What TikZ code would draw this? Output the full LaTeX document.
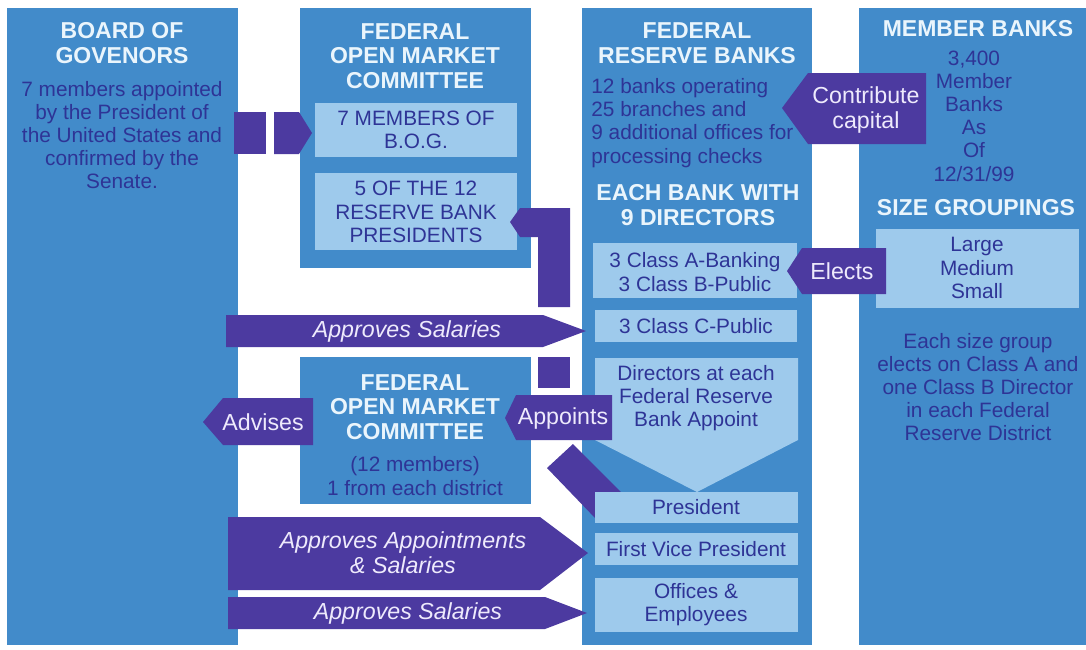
\documentclass[tikz,border=0pt]{standalone}
\usepackage{fontspec}
\setmainfont{Liberation Sans}
\usepackage{tikz}
\usetikzlibrary{fit}
\definecolor{colblue}{RGB}{66,139,202}
\definecolor{liteblue}{RGB}{158,202,236}
\definecolor{arrpurple}{RGB}{76,58,160}
\definecolor{hdrwhite}{RGB}{234,245,252}
\definecolor{txtblue}{RGB}{46,52,150}
\definecolor{arrtext}{RGB}{238,234,252}
\tikzset{
  colbox/.style={rectangle, fill=colblue, inner sep=0pt},
  litebox/.style={rectangle, fill=liteblue, inner sep=0pt},
  blkarrow/.style={fill=arrpurple},
  hdr/.style={align=center, text=hdrwhite, inner sep=0pt,
    font=\fontsize{11.5}{12.3}\selectfont\bfseries},
  bodytxt/.style={align=center, text=txtblue, inner sep=0pt,
    font=\fontsize{10.4}{11.6}\selectfont},
  arrtxt/.style={align=center, text=arrtext, inner sep=0pt,
    font=\fontsize{11.6}{12.5}\selectfont}
}

\begin{document}
\begin{tikzpicture}[x=0.5pt, y=-0.5pt]
  \useasboundingbox (0,0) rectangle (1086,649);
  \fill[white] (0,0) rectangle (1086,649);

  % Columns
  \node[colbox, fit={(7,8) (238,645)}] (bog) {};
  \node[colbox, fit={(300,8) (531,268)}] (fomctop) {};
  \node[colbox, fit={(300,357) (531,504)}] (fomcbot) {};
  \node[colbox, fit={(582,8) (812,645)}] (frb) {};
  \node[colbox, fit={(859,8) (1086,645)}] (member) {};

  % Band from President to the committee
  \fill[blkarrow] (547,468) -- (573,444) -- (622,493) -- (596,519) -- cycle;

  % Light boxes
  \node[litebox, fit={(315,103) (517,157)}] (bogseven) {};
  \node[litebox, fit={(315,173) (517,250)}] (fivepres) {};
  \node[litebox, fit={(593,243) (797,298)}] (classab) {};
  \node[litebox, fit={(595,310) (797,342)}] (classc) {};
  \fill[liteblue] (595,358) -- (798,358) -- (798,440) -- (697,492) -- (595,440) -- cycle;
  \node[litebox, fit={(595,492) (798,523)}] (president) {};
  \node[litebox, fit={(595,533) (798,565)}] (firstvp) {};
  \node[litebox, fit={(595,578) (798,632)}] (offices) {};
  \node[litebox, fit={(876,229) (1079,308)}] (sizes) {};

  % BOG to FOMC
  \fill[blkarrow] (234,112) rectangle (266,154);
  \fill[blkarrow] (274,112) -- (299,112) -- (312,133) -- (299,154) -- (274,154) -- cycle;

  % Reserve bank presidents bracket
  \fill[blkarrow] (510,222) -- (520,208) -- (570,208) -- (570,307) -- (538,307)
    -- (538,237) -- (520,237) -- cycle;
  \fill[blkarrow] (538,357) rectangle (570,388);

  % Approves Salaries (top)
  \fill[blkarrow] (226,315) -- (543,315) -- (586,331) -- (543,347) -- (226,347) -- cycle;
  \node[arrtxt, font=\fontsize{11.6}{12.5}\selectfont\itshape] (salaryone) at (407,331) {Approves Salaries};

  % Advises and Appoints
  \fill[blkarrow] (203,422) -- (223,398) -- (313,398) -- (313,445) -- (223,445) -- cycle;
  \node[arrtxt] (advises) at (263,422) {Advises};
  \fill[blkarrow] (505,418) -- (516,395) -- (612,395) -- (612,440) -- (516,440) -- cycle;
  \node[arrtxt] (appoints) at (563,418) {Appoints};

  % Approves Appointments & Salaries
  \fill[blkarrow] (228,517) -- (540,517) -- (588,553) -- (540,590) -- (228,590) -- cycle;
  \node[arrtxt, font=\fontsize{11.6}{12.5}\selectfont\itshape] (appointsal) at (403,553)
    {Approves Appointments\\\& Salaries};

  % Approves Salaries (bottom)
  \fill[blkarrow] (228,597) -- (545,597) -- (587,613) -- (545,629) -- (228,629) -- cycle;
  \node[arrtxt, font=\fontsize{11.6}{12.5}\selectfont\itshape] (salarytwo) at (408,613) {Approves Salaries};

  % Contribute capital and Elects
  \fill[blkarrow] (782,108) -- (808,73) -- (926,73) -- (926,144) -- (808,144) -- cycle;
  \node[arrtxt] (contrib) at (866,110) {Contribute\\capital};
  \fill[blkarrow] (787,271) -- (802,248) -- (886,248) -- (886,294) -- (802,294) -- cycle;
  \node[arrtxt] (elects) at (842,271) {Elects};

  % Board of Govenors
  \node[hdr] (boghdr) at (122,43) {BOARD OF\\GOVENORS};
  \node[bodytxt] (bogtxt) at (122,135) {7 members appointed\\by the President of\\the United States and\\confirmed by the\\Senate.};

  % FOMC (top)
  \node[hdr] (fomchdr) at (415,56) {FEDERAL\\OPEN MARKET\\COMMITTEE};
  \node[bodytxt] (bogseventxt) at (416,130) {7 MEMBERS OF\\B.O.G.};
  \node[bodytxt] (fivepretxt) at (416,212) {5 OF THE 12\\RESERVE BANK\\PRESIDENTS};

  % FOMC (bottom)
  \node[hdr] (fomcbothdr) at (415,407) {FEDERAL\\OPEN MARKET\\COMMITTEE};
  \node[bodytxt] (fomcbottxt) at (415,476) {(12 members)\\1 from each district};

  % Federal Reserve Banks
  \node[hdr] (frbhdr) at (697,43) {FEDERAL\\RESERVE BANKS};
  \node[bodytxt, align=left, anchor=west] (frbtxt) at (591,123)
    {12 banks operating\\25 branches and\\9 additional offices for\\processing checks};
  \node[hdr] (dirhdr) at (698,205) {EACH BANK WITH\\9 DIRECTORS};
  \node[bodytxt] (classabtxt) at (695,272) {3 Class A-Banking\\3 Class B-Public};
  \node[bodytxt] (classctxt) at (696,326) {3 Class C-Public};
  \node[bodytxt] (directors) at (696,398) {Directors at each\\Federal Reserve\\Bank Appoint};
  \node[bodytxt] (presidenttxt) at (696,507) {President};
  \node[bodytxt] (firstvptxt) at (696,549) {First Vice President};
  \node[bodytxt] (officestxt) at (696,605) {Offices \&\\Employees};

  % Member Banks
  \node[hdr] (memhdr) at (978,29) {MEMBER BANKS};
  \node[bodytxt] (memtxt) at (974,116) {3,400\\Member\\Banks\\As\\Of\\12/31/99};
  \node[hdr] (sizehdr) at (976,208) {SIZE GROUPINGS};
  \node[bodytxt] (sizestxt) at (977,268) {Large\\Medium\\Small};
  \node[bodytxt] (electtxt) at (978,387) {Each size group\\elects on Class A and\\one Class B Director\\in each Federal\\Reserve District};
\end{tikzpicture}
\end{document}
